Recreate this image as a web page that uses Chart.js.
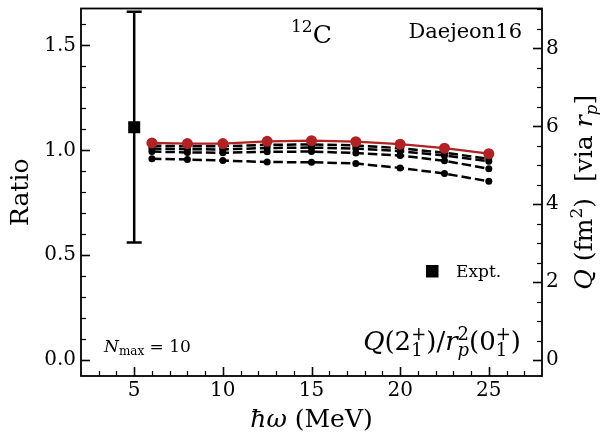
<!DOCTYPE html>
<html>
<head>
<meta charset="utf-8">
<script src="https://cdn.jsdelivr.net/npm/chart.js@4.4.1/dist/chart.umd.min.js"></script>
<style>
  html, body { margin: 0; padding: 0; background: #fff; }
</style>
</head>
<body>
<canvas id="ratioChart" width="600" height="432"></canvas>
<script>
// hbar*omega values (MeV) of the NCSM runs
const hbarOmega = [6, 8, 10, 12.5, 15, 17.5, 20, 22.5, 25];
// Q(2+)/r_p^2(0+) ratio, Nmax = 10 (solid) and the lower-truncation runs (dashed)
const ratioNmax10 = [1.035, 1.032, 1.032, 1.043, 1.046, 1.041, 1.029, 1.010, 0.984];
const ratioNmax8 = [1.022, 1.019, 1.019, 1.026, 1.028, 1.023, 1.010, 0.988, 0.960];
const ratioNmax6 = [1.008, 1.005, 1.004, 1.011, 1.013, 1.008, 0.996, 0.975, 0.948];
const ratioNmax4 = [0.994, 0.990, 0.988, 0.993, 0.994, 0.987, 0.975, 0.950, 0.912];
const ratioNmax2 = [0.960, 0.956, 0.951, 0.944, 0.943, 0.937, 0.916, 0.889, 0.852];
// experiment
const exptOmega = [5];
const exptRatio = [1.11];
const exptErr = [0.55];
// ratio -> Q (fm^2) through the proton radius squared
const rpSquared = 5.385;

const xTicks = [5, 10, 15, 20, 25];
const ratioTicks = [0, 0.5, 1.0, 1.5];
const qTicks = [0, 2, 4, 6, 8];

const ratioMin = -0.076;
const ratioMax = 1.676;

const rm = (s) => `${s}px "DejaVu Serif"`;
const it = (s) => `italic ${s}px "DejaVu Serif"`;

const toPoints = (ys) => hbarOmega.map((x, i) => ({ x, y: ys[i] }));

function dashedSet(ys) {
  return {
    type: 'line',
    data: toPoints(ys),
    borderColor: '#000',
    borderWidth: 2.5,
    borderDash: [9.5, 4],
    pointRadius: 3.5,
    pointBackgroundColor: '#000',
    pointBorderWidth: 0,
    tension: 0,
    order: 2,
  };
}

// measure/draw a run of text pieces (plain, sub/superscript stacks)
function runsWidth(ctx, runs) {
  let w = 0;
  runs.forEach((r) => {
    if (r.sub || r.sup) {
      let ws = 0;
      [r.sub, r.sup].forEach((p) => {
        if (!p) return;
        ctx.font = p.f;
        ws = Math.max(ws, ctx.measureText(p.t).width);
      });
      w += ws + (r.gap || 0);
    } else {
      ctx.font = r.f;
      w += ctx.measureText(r.t).width + (r.gap || 0);
    }
  });
  return w;
}

function drawRuns(ctx, runs, x, y, align) {
  const w = runsWidth(ctx, runs);
  let cx = align === 'center' ? x - w / 2 : align === 'right' ? x - w : x;
  ctx.textAlign = 'left';
  ctx.textBaseline = 'alphabetic';
  runs.forEach((r) => {
    if (r.sub || r.sup) {
      let ws = 0;
      [r.sub, r.sup].forEach((p) => {
        if (!p) return;
        ctx.font = p.f;
        ctx.fillText(p.t, cx, y + p.dy);
        ws = Math.max(ws, ctx.measureText(p.t).width);
      });
      cx += ws + (r.gap || 0);
    } else {
      ctx.font = r.f;
      ctx.fillText(r.t, cx, y + (r.dy || 0));
      cx += ctx.measureText(r.t).width + (r.gap || 0);
    }
  });
}

function fixBox(size, prop) {
  return (scale) => {
    scale[prop] = size;
    scale.paddingTop = 0;
    scale.paddingBottom = 0;
    scale.paddingLeft = 0;
    scale.paddingRight = 0;
  };
}

const errorBars = {
  id: 'errorBars',
  beforeDatasetsDraw(chart) {
    const { ctx, scales } = chart;
    ctx.save();
    ctx.strokeStyle = '#000';
    ctx.lineWidth = 2.5;
    exptOmega.forEach((x, i) => {
      const px = scales.x.getPixelForValue(x);
      const top = scales.y.getPixelForValue(exptRatio[i] + exptErr[i]);
      const bot = scales.y.getPixelForValue(exptRatio[i] - exptErr[i]);
      ctx.beginPath();
      ctx.moveTo(px, top);
      ctx.lineTo(px, bot);
      ctx.moveTo(px - 7.5, top);
      ctx.lineTo(px + 7.5, top);
      ctx.moveTo(px - 7.5, bot);
      ctx.lineTo(px + 7.5, bot);
      ctx.stroke();
    });
    ctx.restore();
  },
};

const frameTicks = {
  id: 'frameTicks',
  afterDraw(chart) {
    const { ctx, chartArea: a, scales } = chart;
    ctx.save();
    ctx.strokeStyle = '#000';

    const tick = (x1, y1, x2, y2, w) => {
      ctx.lineWidth = w;
      ctx.beginPath();
      ctx.moveTo(x1, y1);
      ctx.lineTo(x2, y2);
      ctx.stroke();
    };

    // left: major 0.5, minor 0.1
    for (let k = 0; k <= 16; k++) {
      const py = Math.round(scales.y.getPixelForValue(k / 10)) + 0.5;
      const major = k % 5 === 0;
      tick(a.left, py, a.left + (major ? 9 : 5), py, major ? 1.6 : 1.2);
    }
    // right: major 2, minor 0.5
    for (let k = 0; k <= 18; k++) {
      const py = Math.round(scales.y2.getPixelForValue(k / 2)) + 0.5;
      const major = k % 4 === 0;
      tick(a.right, py, a.right - (major ? 9 : 5), py, major ? 1.6 : 1.2);
    }
    // bottom: major 5, minor 1
    for (let k = 3; k <= 27; k++) {
      const px = Math.round(scales.x.getPixelForValue(k)) + 0.5;
      const major = k % 5 === 0;
      tick(px, a.bottom, px, a.bottom - (major ? 9 : 5), major ? 1.6 : 1.2);
    }

    ctx.lineWidth = 1.8;
    ctx.strokeRect(a.left, a.top, a.right - a.left, a.bottom - a.top);
    ctx.restore();
  },
};

const labels = {
  id: 'labels',
  afterDraw(chart) {
    const { ctx, chartArea: a } = chart;
    ctx.save();
    ctx.fillStyle = '#000';

    drawRuns(ctx, [{ t: '12', f: rm(17), dy: -11 }, { t: 'C', f: rm(25) }], 291, 43, 'left');
    drawRuns(ctx, [{ t: 'Daejeon16', f: rm(21) }], 522, 38, 'right');

    drawRuns(ctx, [
      { t: 'N', f: it(17) },
      { t: 'max', f: rm(12), dy: 3 },
      { t: ' = 10', f: rm(17) },
    ], 104, 352, 'left');

    drawRuns(ctx, [
      { t: 'Q', f: it(26) },
      { t: '(2', f: rm(26) },
      { sub: { t: '1', f: rm(18), dy: 6 }, sup: { t: '+', f: rm(18), dy: -10 } },
      { t: ')/', f: rm(26) },
      { t: 'r', f: it(26) },
      { sub: { t: 'p', f: it(18), dy: 6 }, sup: { t: '2', f: rm(18), dy: -10 } },
      { t: '(0', f: rm(26) },
      { sub: { t: '1', f: rm(18), dy: 6 }, sup: { t: '+', f: rm(18), dy: -10 } },
      { t: ')', f: rm(26) },
    ], 521, 350, 'right');

    // legend
    ctx.fillRect(426, 265, 12.5, 12.5);
    drawRuns(ctx, [{ t: 'Expt.', f: rm(17) }], 456, 277, 'left');

    // axis titles
    drawRuns(ctx, [{ t: 'ħω', f: it(25) }, { t: ' (MeV)', f: rm(25) }], (a.left + a.right) / 2, 427, 'center');

    const midY = (a.top + a.bottom) / 2;
    ctx.save();
    ctx.translate(28, midY);
    ctx.rotate(-Math.PI / 2);
    drawRuns(ctx, [{ t: 'Ratio', f: rm(25) }], 0, 0, 'center');
    ctx.restore();

    ctx.save();
    ctx.translate(592, midY);
    ctx.rotate(-Math.PI / 2);
    drawRuns(ctx, [
      { t: 'Q', f: it(25) },
      { t: ' (fm', f: rm(25) },
      { t: '2', f: rm(17), dy: -10 },
      { t: ')  [via ', f: rm(25) },
      { t: 'r', f: it(25) },
      { t: 'p', f: it(17), dy: 5 },
      { t: ']', f: rm(25) },
    ], 0, 0, 'center');
    ctx.restore();

    ctx.restore();
  },
};

const tickFont = { family: 'DejaVu Serif', size: 20 };

new Chart(document.getElementById('ratioChart'), {
  data: {
    datasets: [
      {
        type: 'line',
        data: toPoints(ratioNmax10),
        borderColor: '#b22222',
        borderWidth: 2.2,
        pointRadius: 5.5,
        pointBackgroundColor: '#b22222',
        pointBorderWidth: 0,
        tension: 0,
        order: 0,
      },
      dashedSet(ratioNmax8),
      dashedSet(ratioNmax6),
      dashedSet(ratioNmax4),
      dashedSet(ratioNmax2),
      {
        type: 'scatter',
        data: exptOmega.map((x, i) => ({ x, y: exptRatio[i] })),
        pointStyle: 'rect',
        pointRadius: 8.5,
        pointBackgroundColor: '#000',
        pointBorderWidth: 0,
        order: 1,
      },
    ],
  },
  options: {
    responsive: false,
    animation: false,
    events: [],
    layout: { padding: { top: 8, left: 0, right: 0, bottom: 0 } },
    plugins: {
      legend: { display: false },
      tooltip: { enabled: false },
    },
    scales: {
      x: {
        type: 'linear',
        position: 'bottom',
        min: 2,
        max: 28,
        grid: { display: false, drawTicks: false },
        border: { display: false },
        ticks: { font: tickFont, color: '#000', padding: 3, maxRotation: 0 },
        afterBuildTicks: (s) => { s.ticks = xTicks.map((v) => ({ value: v })); },
        afterFit: fixBox(56, 'height'),
      },
      y: {
        type: 'linear',
        position: 'left',
        min: ratioMin,
        max: ratioMax,
        grid: { display: false, drawTicks: false },
        border: { display: false },
        ticks: { font: tickFont, color: '#000', padding: 5, callback: (v) => v.toFixed(1) },
        afterBuildTicks: (s) => { s.ticks = ratioTicks.map((v) => ({ value: v })); },
        afterFit: fixBox(81, 'width'),
      },
      y2: {
        type: 'linear',
        position: 'right',
        min: ratioMin * rpSquared,
        max: ratioMax * rpSquared,
        grid: { display: false, drawTicks: false },
        border: { display: false },
        ticks: { font: tickFont, color: '#000', padding: 4, callback: (v) => String(v) },
        afterBuildTicks: (s) => { s.ticks = qTicks.map((v) => ({ value: v })); },
        afterFit: fixBox(58, 'width'),
      },
    },
  },
  plugins: [errorBars, frameTicks, labels],
});
</script>
</body>
</html>
